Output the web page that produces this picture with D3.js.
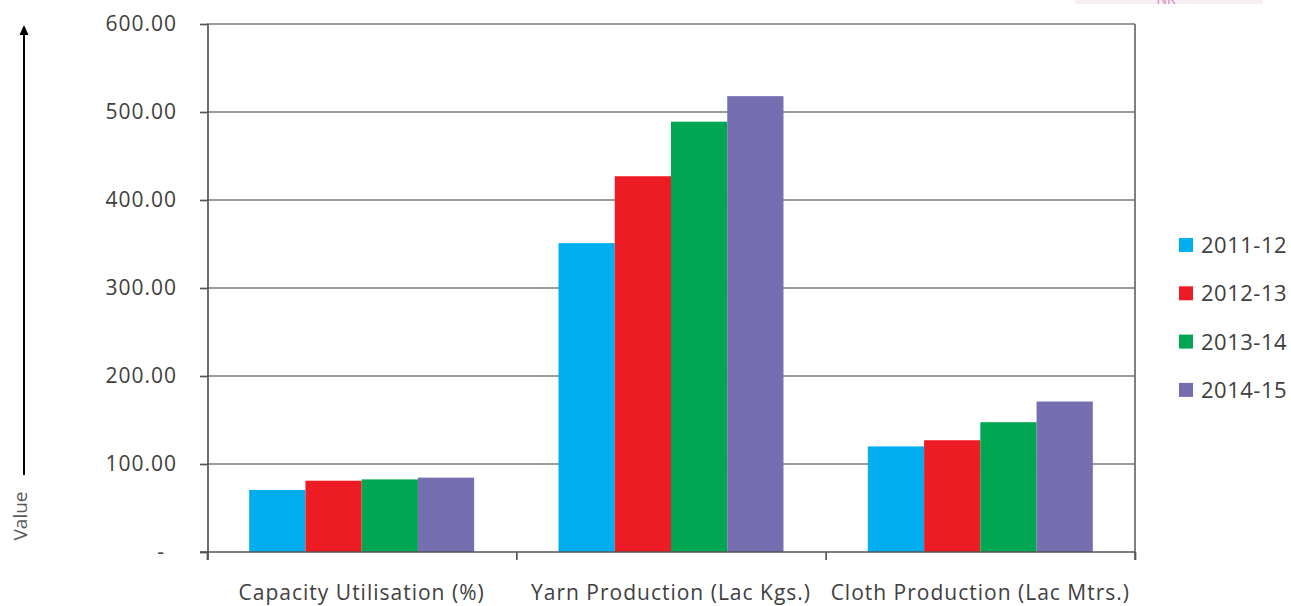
<!DOCTYPE html>
<html>
<head>
<meta charset="utf-8">
<script src="https://cdn.jsdelivr.net/npm/d3@7"></script>
<style>
  html, body { margin: 0; padding: 0; background: #fff; }
  svg { display: block; font-family: "Open Sans", sans-serif; }
</style>
</head>
<body>
<svg id="chart" width="1291" height="606"></svg>
<script>
const categories = ["Capacity Utilisation (%)", "Yarn Production (Lac Kgs.)", "Cloth Production (Lac Mtrs.)"];
const seriesNames = ["2011-12", "2012-13", "2013-14", "2014-15"];
const values2011 = [70.5, 351, 120];
const values2012 = [81, 427, 127];
const values2013 = [82.5, 489, 147.5];
const values2014 = [84.5, 518, 171];
const seriesColors = ["#00AEEF", "#ED1C24", "#00A651", "#756FB1"];
const yTicks = [0, 100, 200, 300, 400, 500, 600];
const yLabel = "Value";

const allValues = [values2011, values2012, values2013, values2014];

const svg = d3.select("#chart");
const pLeft = 207, pRight = 1135, pTop = 24, pBottom = 552;

const y = d3.scaleLinear().domain([0, 600]).range([pBottom, pTop]);
const x0 = d3.scaleBand().domain(categories).range([pLeft, pRight])
  .paddingInner(1.5 / 5.5).paddingOuter(0.75 / 5.5);
const x1 = d3.scaleBand().domain(seriesNames).range([0, x0.bandwidth()]).padding(0);

// gridlines
svg.append("g").selectAll("line").data(yTicks.filter(d => d > 0)).join("line")
  .attr("x1", pLeft).attr("x2", pRight)
  .attr("y1", d => y(d)).attr("y2", d => y(d))
  .attr("stroke", "#7a7a7a").attr("stroke-width", 1.7);

// right border
svg.append("line").attr("x1", pRight).attr("x2", pRight).attr("y1", pTop).attr("y2", pBottom + 8)
  .attr("stroke", "#6a6a6a").attr("stroke-width", 1.7);

// bars
const barG = svg.append("g");
categories.forEach((c, ci) => {
  seriesNames.forEach((s, si) => {
    const v = allValues[si][ci];
    barG.append("rect")
      .attr("x", x0(c) + x1(s))
      .attr("y", y(v))
      .attr("width", x1.bandwidth())
      .attr("height", y(0) - y(v))
      .attr("fill", seriesColors[si]);
  });
});

// y axis
const yAxis = d3.axisLeft(y).tickValues(yTicks).tickSize(8).tickPadding(23)
  .tickFormat(d => d === 0 ? "-" : d.toFixed(2));
const ya = svg.append("g").attr("transform", `translate(${pLeft + 1},0)`).call(yAxis);
ya.select(".domain").attr("stroke", "#555").attr("stroke-width", 1.7)
  .attr("d", `M0,${pTop}V${pBottom + 8}`);
ya.selectAll(".tick line").attr("stroke", "#555").attr("stroke-width", 1.7);
ya.selectAll(".tick text").attr("font-size", 21).attr("fill", "#404040")
  .attr("letter-spacing", 1)
  .attr("font-family", "Open Sans, sans-serif")
  .attr("dx", d => d === 0 ? -12 : 0);

// x axis
const xa = svg.append("g").attr("transform", `translate(0,${pBottom})`);
xa.append("line").attr("x1", pLeft - 7).attr("x2", pRight).attr("y1", 0).attr("y2", 0)
  .attr("stroke", "#555").attr("stroke-width", 1.7);
const boundaries = categories.map(c => x0(c) - x0.step() * x0.paddingOuter()).concat([pRight]);
xa.selectAll("line.tk").data(boundaries).join("line").attr("class", "tk")
  .attr("x1", d => d + 0.5).attr("x2", d => d + 0.5).attr("y1", 0).attr("y2", 8)
  .attr("stroke", "#555").attr("stroke-width", 1.7);
xa.selectAll("text").data(categories).join("text")
  .attr("x", d => x0(d) + x0.bandwidth() / 2)
  .attr("y", 48)
  .attr("text-anchor", "middle")
  .attr("font-size", 21).attr("letter-spacing", 1).attr("fill", "#404040")
  .text(d => d);

// legend
const lg = svg.append("g");
seriesNames.forEach((s, i) => {
  const cy = 245 + i * 48.3;
  lg.append("rect").attr("x", 1179).attr("y", cy - 7).attr("width", 14).attr("height", 14)
    .attr("fill", seriesColors[i]);
  lg.append("text").attr("x", 1201).attr("y", cy).attr("dy", "0.36em")
    .attr("font-size", 22).attr("letter-spacing", 0.5).attr("fill", "#404040").text(s);
});

// y label arrow
svg.append("line").attr("x1", 24).attr("x2", 24).attr("y1", 475).attr("y2", 34)
  .attr("stroke", "#000").attr("stroke-width", 2);
svg.append("path").attr("d", "M24,25 L19.5,35 L28.5,35 Z").attr("fill", "#000");
svg.append("text")
  .attr("transform", "translate(20,516) rotate(-90)")
  .attr("text-anchor", "middle").attr("dy", "0.36em")
  .attr("font-size", 19).attr("fill", "#595959")
  .text(yLabel);

// faint watermark remnant at top
svg.append("rect").attr("x", 1075).attr("y", 0).attr("width", 188).attr("height", 4)
  .attr("fill", "#f7eef4");
svg.append("text").attr("x", 1166).attr("y", 4).attr("text-anchor", "middle")
  .attr("font-size", 14).attr("fill", "#d48ab8").text("NK");
</script>
</body>
</html>
